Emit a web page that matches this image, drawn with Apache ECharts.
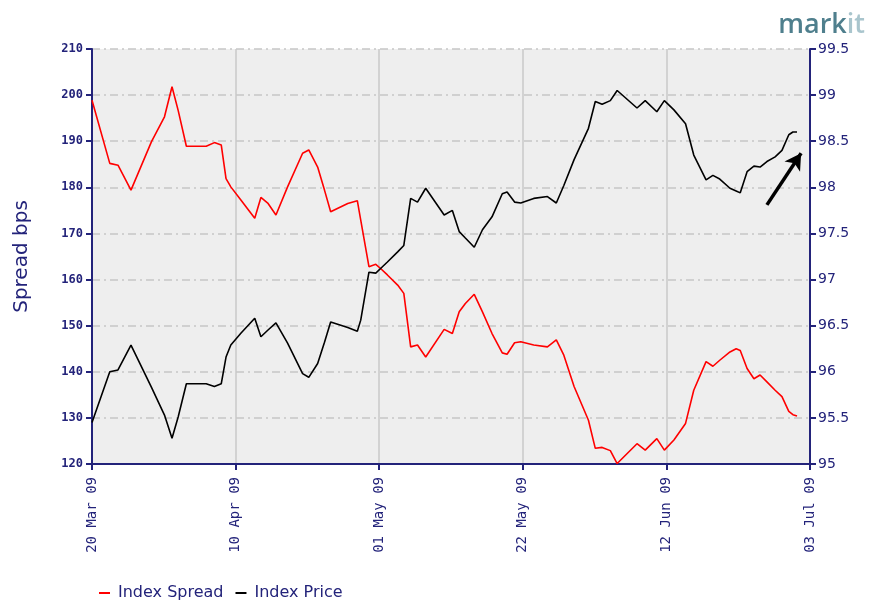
<!DOCTYPE html>
<html>
<head>
<meta charset="utf-8">
<script src="https://cdn.jsdelivr.net/npm/echarts@6/dist/echarts.min.js"></script>
<style>html,body{margin:0;padding:0;background:#fff}#c{width:875px;height:601px}</style>
</head>
<body>
<div id="c"></div>
<script>
// Days since 20 Mar 09
var days = [0, 2.6, 3.8, 5.7, 8.7, 10.6, 11.7, 12.6, 13.8, 16.7, 17.9, 18.9, 19.6, 20.3, 21.8, 23.8, 24.7, 25.7, 26.9, 28.6, 30.8, 31.7, 33.0, 34.0, 34.9, 37.4, 38.8, 39.3, 40.5, 41.5, 42.2, 43.2, 44.7, 45.6, 46.6, 47.6, 48.8, 51.5, 52.7, 53.7, 54.6, 55.9, 57.1, 58.5, 60.0, 60.7, 61.8, 62.7, 64.6, 66.6, 67.9, 69.0, 70.5, 72.6, 73.6, 74.6, 75.8, 76.8, 79.7, 80.9, 82.6, 83.7, 85.1, 86.8, 88.0, 89.8, 90.8, 91.8, 93.3, 94.2, 94.8, 95.8, 96.8, 97.7, 98.7, 99.9, 100.9, 101.9, 102.5, 103.1];
var indexSpread = [198.9, 185.2, 184.8, 179.4, 189.9, 195.3, 201.8, 196.7, 188.9, 188.9, 189.7, 189.2, 181.9, 180.1, 177.2, 173.3, 177.8, 176.6, 174.0, 180.1, 187.4, 188.1, 184.4, 179.4, 174.7, 176.5, 177.1, 172.9, 162.8, 163.3, 162.4, 161.0, 158.8, 157.0, 145.4, 145.8, 143.2, 149.2, 148.3, 153.0, 154.8, 156.8, 153.0, 148.3, 144.1, 143.8, 146.3, 146.5, 145.8, 145.4, 146.9, 143.6, 136.8, 129.5, 123.4, 123.6, 122.9, 120.1, 124.4, 123.0, 125.5, 123.0, 125.2, 128.8, 136.0, 142.2, 141.2, 142.5, 144.3, 145.0, 144.6, 140.7, 138.5, 139.3, 137.8, 136.0, 134.6, 131.4, 130.7, 130.4];
var indexPrice = [95.45, 96.0, 96.02, 96.29, 95.83, 95.53, 95.28, 95.51, 95.87, 95.87, 95.84, 95.87, 96.16, 96.29, 96.42, 96.58, 96.38, 96.45, 96.53, 96.31, 95.98, 95.94, 96.09, 96.32, 96.54, 96.48, 96.44, 96.56, 97.08, 97.07, 97.12, 97.19, 97.30, 97.37, 97.88, 97.84, 97.99, 97.70, 97.75, 97.52, 97.45, 97.35, 97.54, 97.68, 97.93, 97.95, 97.84, 97.83, 97.88, 97.90, 97.83, 98.02, 98.30, 98.64, 98.93, 98.90, 98.94, 99.05, 98.86, 98.94, 98.82, 98.94, 98.84, 98.69, 98.35, 98.08, 98.13, 98.09, 97.99, 97.96, 97.94, 98.17, 98.23, 98.22, 98.28, 98.33, 98.40, 98.57, 98.60, 98.60];
var xTickLabels = ['20 Mar 09', '10 Apr 09', '01 May 09', '22 May 09', '12 Jun 09', '03 Jul 09'];
var xTickStep = 21;
// annotation arrow (day, price)
var arrowFrom = [98.7, 97.81];
var arrowTo = [103.7, 98.37];

var navy = '#23237a';
function zip(a, b) { return a.map(function (v, i) { return [v, b[i]]; }); }

var chart = echarts.init(document.getElementById('c'));
chart.setOption({
  animation: false,
  backgroundColor: '#ffffff',
  title: {
    text: '{a|mark}{b|it}',
    right: 5, top: 7,
    textStyle: {
      rich: {
        a: { fontFamily: 'Open Sans, DejaVu Sans, sans-serif', fontSize: 27, fontWeight: 600, color: '#4f7f8d' },
        b: { fontFamily: 'Open Sans, DejaVu Sans, sans-serif', fontSize: 27, fontWeight: 600, color: '#a9c5cd' }
      }
    }
  },
  legend: {
    left: 94, top: 580,
    itemWidth: 11, itemHeight: 2, itemGap: 12,
    icon: 'rect',
    textStyle: { color: navy, fontSize: 16, fontFamily: 'DejaVu Sans, sans-serif', padding: [0, 0, 0, 3] },
    data: ['Index Spread', 'Index Price']
  },
  grid: { left: 92, right: 65, top: 49, bottom: 137, show: true, backgroundColor: '#eeeeee', borderWidth: 0 },
  xAxis: {
    type: 'value', min: 0, max: 105, interval: xTickStep,
    axisLine: { show: true, lineStyle: { color: navy, width: 2 } },
    axisTick: { show: true, length: 6, lineStyle: { color: navy, width: 2 } },
    splitLine: { show: true, lineStyle: { color: '#c9c9c9', width: 1.5, type: 'solid' } },
    axisLabel: {
      rotate: 90, color: navy, fontSize: 14, fontFamily: 'DejaVu Sans Mono, monospace', margin: 13,
      formatter: function (v) { return xTickLabels[Math.round(v / xTickStep)] || ''; }
    }
  },
  yAxis: [{
    type: 'value', min: 120, max: 210, interval: 10, position: 'left',
    name: 'Spread bps', nameLocation: 'middle', nameRotate: 90, nameGap: 60,
    nameTextStyle: { color: navy, fontSize: 20, fontFamily: 'DejaVu Sans, sans-serif' },
    axisLine: { show: true, lineStyle: { color: navy, width: 2 } },
    axisTick: { show: true, length: 6, lineStyle: { color: navy, width: 2 } },
    axisLabel: { color: navy, fontSize: 12, fontWeight: 'bold', fontFamily: 'DejaVu Sans Mono, monospace', margin: 9 },
    splitLine: { show: true, lineStyle: { color: '#c6c6c6', width: 1.5, type: [8, 4, 2, 4] } }
  }, {
    type: 'value', min: 95, max: 99.5, interval: 0.5, position: 'right',
    axisLine: { show: true, lineStyle: { color: navy, width: 2 } },
    axisTick: { show: true, length: 6, lineStyle: { color: navy, width: 2 } },
    axisLabel: { color: navy, fontSize: 14, fontFamily: 'DejaVu Sans, sans-serif', margin: 8,
      formatter: function (v) { return String(v); } },
    splitLine: { show: false }
  }],
  series: [{
    name: 'Index Spread', type: 'line', yAxisIndex: 0,
    data: zip(days, indexSpread), showSymbol: false, symbol: 'none',
    lineStyle: { color: '#ff0000', width: 1.6 }, itemStyle: { color: '#ff0000' }
  }, {
    name: 'Index Price', type: 'line', yAxisIndex: 1,
    data: zip(days, indexPrice), showSymbol: false, symbol: 'none',
    lineStyle: { color: '#000000', width: 1.6 }, itemStyle: { color: '#000000' },
    markLine: {
      silent: true, symbol: ['none', 'arrow'], symbolSize: [14, 16],
      label: { show: false },
      lineStyle: { color: '#000', width: 3.5, type: 'solid' },
      data: [[{ coord: arrowFrom }, { coord: arrowTo }]]
    }
  }]
});
</script>
</body>
</html>
